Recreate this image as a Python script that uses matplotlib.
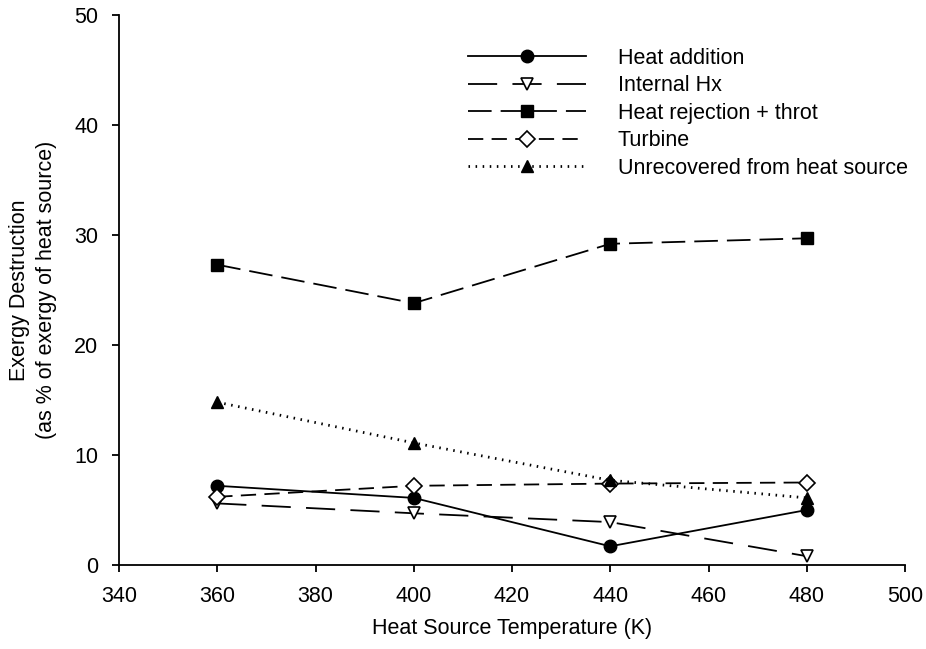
import matplotlib
matplotlib.use("Agg")
import matplotlib.pyplot as plt

plt.rcParams['font.family'] = ['Liberation Sans', 'DejaVu Sans']
plt.rcParams['lines.scale_dashes'] = False

temperature = [360, 400, 440, 480]
heat_addition = [7.2, 6.1, 1.7, 5.0]
internal_hx = [5.6, 4.7, 3.9, 0.8]
heat_rejection = [27.3, 23.8, 29.2, 29.7]
turbine = [6.2, 7.2, 7.4, 7.5]
unrecovered = [14.8, 11.1, 7.7, 6.1]

labels = ["Heat addition", "Internal Hx", "Heat rejection + throt",
          "Turbine", "Unrecovered from heat source"]
x_ticks = [340, 360, 380, 400, 420, 440, 460, 480, 500]
y_ticks = [0, 10, 20, 30, 40, 50]

fs = 15.5
fig = plt.figure(figsize=(9.26, 6.49), dpi=100)
ax = fig.add_axes([119 / 926, 1 - 565 / 649, (905 - 119) / 926, (565 - 15) / 649])

lw = 1.3
ms = 9
ax.plot(temperature, heat_addition, color='black', lw=lw, linestyle='-',
        marker='o', markersize=ms, markerfacecolor='black', label=labels[0])
ax.plot(temperature, internal_hx, color='black', lw=lw, linestyle=(0, (21, 11)),
        marker='v', markersize=ms, markerfacecolor='white', markeredgewidth=1.2,
        label=labels[1])
ax.plot(temperature, heat_rejection, color='black', lw=lw, linestyle=(0, (17, 6.5)),
        marker='s', markersize=ms - 0.5, markerfacecolor='black', label=labels[2])
ax.plot(temperature, turbine, color='black', lw=lw, linestyle=(0, (11, 6)),
        marker='D', markersize=ms - 1, markerfacecolor='white', markeredgewidth=1.2,
        label=labels[3])
ax.plot(temperature, unrecovered, color='black', lw=2.0, linestyle=(0, (1.1, 4)),
        marker='^', markersize=ms, markerfacecolor='black', label=labels[4])

ax.set_xlim(340, 500)
ax.set_ylim(0, 50)
ax.set_xticks(x_ticks)
ax.set_yticks(y_ticks)
ax.spines['top'].set_visible(False)
ax.spines['right'].set_visible(False)
for s in ('left', 'bottom'):
    ax.spines[s].set_linewidth(1.3)
ax.tick_params(axis='both', direction='out', length=5, width=1.3, pad=10,
               labelsize=fs, colors='black')

ax.set_xlabel("Heat Source Temperature (K)", fontsize=fs, labelpad=8)
ax.set_ylabel("Exergy Destruction\n(as % of exergy of heat source)", fontsize=fs,
              labelpad=12, linespacing=1.4)

leg = fig.legend(loc='upper left', bbox_to_anchor=(468 / 926, 1 - 48 / 649),
                 frameon=False, fontsize=fs, handlelength=5.5, handletextpad=1.45,
                 labelspacing=0.30, borderpad=0, borderaxespad=0, numpoints=1)

fig.savefig("out.png", dpi=100)
